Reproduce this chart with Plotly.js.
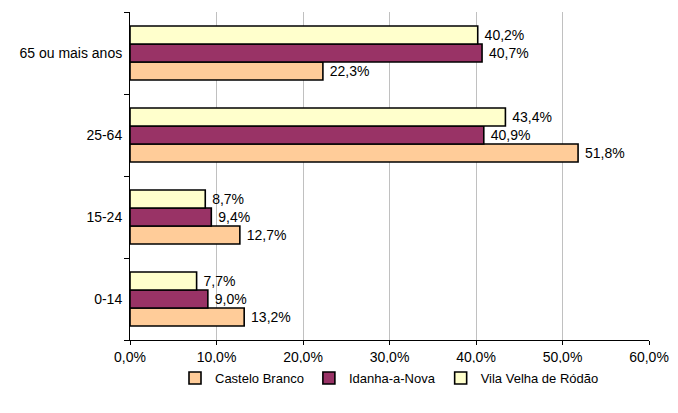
<!DOCTYPE html>
<html><head><meta charset="utf-8">
<script src="https://cdn.plot.ly/plotly-3.0.1.min.js"></script>
<style>html,body{margin:0;padding:0;background:#fff}#chart{width:678px;height:413px}</style>
</head><body><div id="chart"></div>
<script>
var categories = ["0-14", "15-24", "25-64", "65 ou mais anos"];
var seriesNames = ["Castelo Branco", "Idanha-a-Nova", "Vila Velha de Ródão"];
var casteloBranco = [0.132, 0.127, 0.518, 0.223];
var idanhaANova = [0.090, 0.094, 0.409, 0.407];
var vilaVelha = [0.077, 0.087, 0.434, 0.402];
var xTickVals = [0, 0.1, 0.2, 0.3, 0.4, 0.5, 0.6];
var colors = ["#FFCC99", "#993366", "#FFFFCC"];
var values = [casteloBranco, idanhaANova, vilaVelha];

var traces = values.map(function(v, i){
  return {
    type: "bar", orientation: "h", name: seriesNames[i],
    y: categories, x: v,
    marker: {color: colors[i], line: {color: "#000", width: 1.6}},
    texttemplate: "\u00a0%{x:.1%}", textposition: "outside",
    textfont: {family: "Arial, Liberation Sans, sans-serif", size: 14, color: "#000"},
    cliponaxis: false, hoverinfo: "none"
  };
});

var layout = {
  width: 678, height: 413,
  margin: {l: 130, r: 29, t: 12, b: 73},
  barmode: "group", bargap: 0.34, bargroupgap: 0,
  separators: ", ",
  font: {family: "Arial, Liberation Sans, sans-serif", size: 14, color: "#000"},
  paper_bgcolor: "#fff", plot_bgcolor: "#fff",
  showlegend: true,
  legend: {orientation: "h", x: 0.5, xanchor: "center", y: -0.116, yanchor: "middle",
           font: {size: 13}, traceorder: "normal", itemwidth: 30},
  xaxis: {range: [0, 0.6], tickvals: xTickVals, tickformat: ".1%",
          showgrid: true, gridcolor: "#c0c0c0", gridwidth: 1,
          showline: true, linecolor: "#000", linewidth: 1,
          ticks: "outside", ticklen: 4, tickcolor: "#000",
          tickfont: {size: 14},
          zeroline: false, fixedrange: true},
  yaxis: {showline: true, linecolor: "#000", linewidth: 1,
          ticks: "outside", ticklen: 5, tickcolor: "#000", tickson: "boundaries",
          ticklabelstandoff: 4, tickfont: {size: 14},
          showgrid: false, zeroline: false, fixedrange: true}
};

Plotly.newPlot("chart", traces, layout, {displayModeBar: false, staticPlot: true});
</script></body></html>
